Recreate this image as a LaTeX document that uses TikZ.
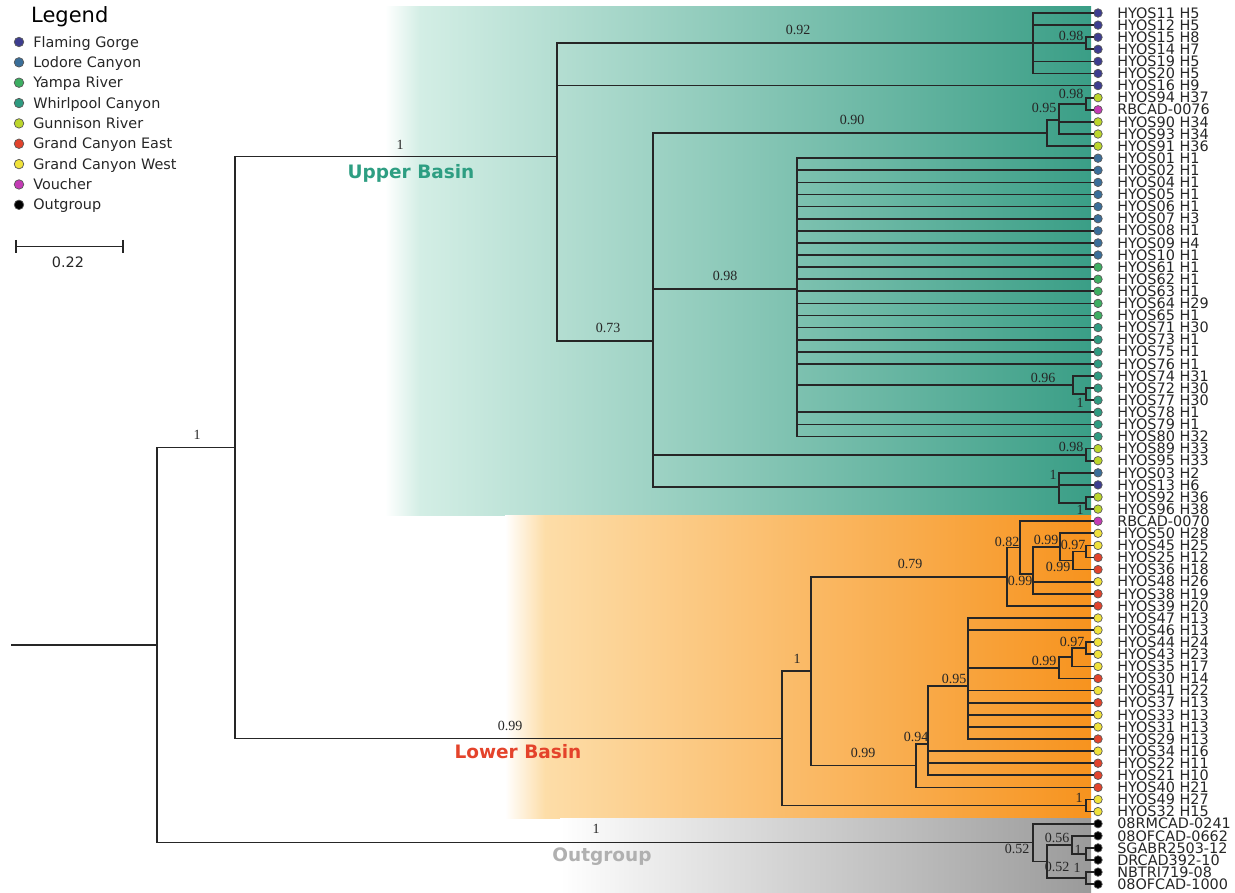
\documentclass[tikz,border=0pt]{standalone}
\usepackage{fontspec}
\setmainfont{Liberation Serif}
\newfontfamily\dejavu{DejaVu Sans}
\usetikzlibrary{positioning}

\definecolor{cFlam}{HTML}{3D3D8F}
\definecolor{cLodo}{HTML}{3A6E99}
\definecolor{cYamp}{HTML}{3DAE62}
\definecolor{cWhirl}{HTML}{2E9A80}
\definecolor{cGunn}{HTML}{BCD62B}
\definecolor{cGCE}{HTML}{E2432C}
\definecolor{cGCW}{HTML}{F0E23A}
\definecolor{cVouch}{HTML}{C43BB5}
\definecolor{cOut}{HTML}{000000}
\definecolor{upA}{HTML}{D3EEE5}
\definecolor{upB}{HTML}{3A9E86}
\definecolor{loA}{HTML}{FDDDA8}
\definecolor{loB}{HTML}{F7931E}
\definecolor{ogA}{HTML}{EEEEEE}
\definecolor{ogB}{HTML}{9A9A9A}
\definecolor{tUpper}{HTML}{2E9E82}
\definecolor{tLower}{HTML}{E4432B}
\definecolor{tOut}{HTML}{B0B0B0}

\tikzset{
  branch/.style={line width=1.7pt, draw=black!85, line cap=rect},
  leafdot/.style={circle, draw=black!65, line width=0.7pt, fill=#1, minimum size=8.5pt, inner sep=0pt},
  leaflab/.style={font=\dejavu\fontsize{14.4}{14.4}\selectfont, text=black!85, inner sep=0pt, text height=10.4pt, text depth=0pt},
  bootlab/.style={font=\fontsize{14}{14}\selectfont, text=black!85, inner sep=0pt},
  cladelab/.style={font=\dejavu\bfseries\fontsize{18.5}{18.5}\selectfont, inner sep=0pt},
}

\begin{document}
\begin{tikzpicture}[x=1pt, y=-1pt]
    \useasboundingbox (0,0) rectangle (1235,893);

    % clade bands
    \fill[left color=white, right color=upA] (385,7) rectangle (420,515);
    \fill[left color=upA, right color=upB] (420,7) rectangle (1091,515);
    \fill[left color=white, right color=loA] (505,515) rectangle (545,818);
    \fill[left color=loA, right color=loB] (545,515) rectangle (1091,818);
    \fill[left color=white, right color=ogA] (560,818) rectangle (640,893);
    \fill[left color=ogA, right color=ogB] (640,818) rectangle (1091,893);

    % tips
    \foreach \name/\col [count=\i] in {HYOS11 H5/cFlam, HYOS12 H5/cFlam, HYOS15 H8/cFlam, HYOS14 H7/cFlam, HYOS19 H5/cFlam, HYOS20 H5/cFlam, HYOS16 H9/cFlam, HYOS94 H37/cGunn, RBCAD-0076/cVouch, HYOS90 H34/cGunn, HYOS93 H34/cGunn, HYOS91 H36/cGunn, HYOS01 H1/cLodo, HYOS02 H1/cLodo, HYOS04 H1/cLodo, HYOS05 H1/cLodo, HYOS06 H1/cLodo, HYOS07 H3/cLodo, HYOS08 H1/cLodo, HYOS09 H4/cLodo, HYOS10 H1/cLodo, HYOS61 H1/cYamp, HYOS62 H1/cYamp, HYOS63 H1/cYamp, HYOS64 H29/cYamp, HYOS65 H1/cYamp, HYOS71 H30/cWhirl, HYOS73 H1/cWhirl, HYOS75 H1/cWhirl, HYOS76 H1/cWhirl, HYOS74 H31/cWhirl, HYOS72 H30/cWhirl, HYOS77 H30/cWhirl, HYOS78 H1/cWhirl, HYOS79 H1/cWhirl, HYOS80 H32/cWhirl, HYOS89 H33/cGunn, HYOS95 H33/cGunn, HYOS03 H2/cLodo, HYOS13 H6/cFlam, HYOS92 H36/cGunn, HYOS96 H38/cGunn, RBCAD-0070/cVouch, HYOS50 H28/cGCW, HYOS45 H25/cGCW, HYOS25 H12/cGCE, HYOS36 H18/cGCE, HYOS48 H26/cGCW, HYOS38 H19/cGCE, HYOS39 H20/cGCE, HYOS47 H13/cGCW, HYOS46 H13/cGCW, HYOS44 H24/cGCW, HYOS43 H23/cGCW, HYOS35 H17/cGCW, HYOS30 H14/cGCE, HYOS41 H22/cGCW, HYOS37 H13/cGCE, HYOS33 H13/cGCW, HYOS31 H13/cGCW, HYOS29 H13/cGCE, HYOS34 H16/cGCW, HYOS22 H11/cGCE, HYOS21 H10/cGCE, HYOS40 H21/cGCE, HYOS49 H27/cGCW, HYOS32 H15/cGCW, 08RMCAD-0241/cOut, 08OFCAD-0662/cOut, SGABR2503-12/cOut, DRCAD392-10/cOut, NBTRI719-08/cOut, 08OFCAD-1000/cOut}
    {
        \node[leafdot=\col] (l\i) at (1098,{13+(\i-1)*12.1}) {};
        \node[leaflab, right=14.5pt of l\i] (t\i) {\name};
    }

    % internal nodes
    \coordinate (root0) at (12,645);
    \coordinate (root) at (157,645);
    \coordinate (ingrp) at (235,447.5);
    \coordinate (upper) at (557,156.6);
    \coordinate (lower) at (782,738.4);
    \coordinate (flam) at (1033,43.25);
    \coordinate (flam2) at (1086,43.25);
    \coordinate (core) at (653,340.9);
    \coordinate (gun1) at (1047,133);
    \coordinate (gun2) at (1059,119.9);
    \coordinate (gun3) at (1086,103.75);
    \coordinate (poly) at (797,288.96);
    \coordinate (whirl1) at (1073,385.1);
    \coordinate (whirl2) at (1086,394.15);
    \coordinate (gun4) at (1086,454.65);
    \coordinate (mix1) at (1059,486.9);
    \coordinate (mix2) at (1086,503.05);
    \coordinate (low1) at (811,671.2);
    \coordinate (low2) at (1086,805.55);
    \coordinate (east1) at (1007,576.75);
    \coordinate (east2) at (1020,547.6);
    \coordinate (east3) at (1033,574.1);
    \coordinate (east4) at (1060,546.9);
    \coordinate (east5) at (1073,560.5);
    \coordinate (east6) at (1086,551.45);
    \coordinate (west1) at (916,765.6);
    \coordinate (west2) at (928,743.9);
    \coordinate (west3) at (968,686);
    \coordinate (west4) at (1059,667.9);
    \coordinate (west5) at (1072,657.3);
    \coordinate (west6) at (1086,648.25);
    \coordinate (out1) at (1033,842.6);
    \coordinate (out2) at (1047,861.5);
    \coordinate (out3) at (1072,844.9);
    \coordinate (out4) at (1086,878.15);
    \coordinate (out5) at (1086,853.95);

    % branches
    \draw[branch] (root0) -- (root);
    \foreach \p/\c in {root/ingrp, root/out1, ingrp/upper, ingrp/lower,
        upper/flam, upper/l7, upper/core,
        flam/l1, flam/l2, flam/flam2, flam/l5, flam/l6, flam2/l3, flam2/l4,
        core/gun1, core/poly, core/gun4, core/mix1,
        gun1/gun2, gun1/l12, gun2/gun3, gun2/l10, gun2/l11, gun3/l8, gun3/l9,
        poly/whirl1, poly/l34, poly/l35, poly/l36,
        whirl1/l31, whirl1/whirl2, whirl2/l32, whirl2/l33,
        gun4/l37, gun4/l38, mix1/l39, mix1/l40, mix1/mix2, mix2/l41, mix2/l42,
        lower/low1, lower/low2, low2/l66, low2/l67, low1/east1, low1/west1,
        east1/east2, east1/l50, east2/l43, east2/east3, east3/east4, east3/l48, east3/l49,
        east4/l44, east4/east5, east5/east6, east5/l47, east6/l45, east6/l46,
        west1/west2, west1/l65, west2/west3, west2/l62, west2/l63, west2/l64,
        west3/l51, west3/l52, west3/west4, west3/l57, west3/l58, west3/l59, west3/l60, west3/l61,
        west4/west5, west4/l56, west5/west6, west5/l55, west6/l53, west6/l54,
        out1/l68, out1/out2, out2/out3, out2/out4, out3/l69, out3/out5,
        out5/l70, out5/l71, out4/l72, out4/l73}
        \draw[branch] (\p) |- (\c);
    \foreach \i in {13,...,30}
        \draw[branch] (poly) |- (l\i);

    % redraw dots on top
    \foreach \i in {1,...,73}
        \path (l\i);

    % support values
    \foreach \v/\x/\y [count=\k] in {1/197/435, 1/400/145, 0.99/510/726, 1/596/829,
        0.92/798/30, 0.98/1071/36, 0.98/1071/94, 0.95/1044/108, 0.90/852/120,
        0.98/725/276, 0.73/608/328, 0.96/1043/378, 1/1080/403, 0.98/1071/447,
        1/1053/475, 1/1080/510,
        0.82/1007/542, 0.99/1046/540, 0.97/1073/545, 0.99/1058/567, 0.99/1020/581,
        0.79/910/564, 1/797/659, 0.99/863/753, 0.94/916/737, 0.95/954/679,
        0.97/1072/642, 0.99/1044/661, 1/1079/798,
        0.52/1017/849, 0.56/1057/838, 1/1078/850, 0.52/1057/867, 1/1077/868}
        \node[bootlab] (s\k) at (\x,\y) {\v};

    % clade names
    \node[cladelab, text=tUpper] (upname) at (411,173) {Upper Basin};
    \node[cladelab, text=tLower] (lowname) at (518,752) {Lower Basin};
    \node[cladelab, text=tOut] (outname) at (602,857) {Outgroup};

    % legend
    \node[font=\dejavu\fontsize{21}{21}\selectfont, anchor=base west, inner sep=0pt] (legend) at (31,23) {Legend};
    \foreach \lab/\col [count=\i] in {Flaming Gorge/cFlam, Lodore Canyon/cLodo, Yampa River/cYamp, Whirlpool Canyon/cWhirl, Gunnison River/cGunn, Grand Canyon East/cGCE, Grand Canyon West/cGCW, Voucher/cVouch, Outgroup/cOut}
    {
        \node[leafdot=\col, minimum size=9.5pt] (k\i) at (19,{42+(\i-1)*20.35}) {};
        \node[leaflab, right=9pt of k\i] (kt\i) {\lab};
    }

    % scale bar
    \coordinate (sbl) at (16,246.5);
    \coordinate (sbr) at (123,246.5);
    \draw[line width=1.4pt, draw=black!85] (sbl) -- (sbr);
    \draw[line width=1.4pt, draw=black!85] (16,240) -- (16,253);
    \draw[line width=1.4pt, draw=black!85] (123,240) -- (123,253);
    \node[leaflab, anchor=center] (sbtext) at (68,262.5) {0.22};
\end{tikzpicture}
\end{document}
